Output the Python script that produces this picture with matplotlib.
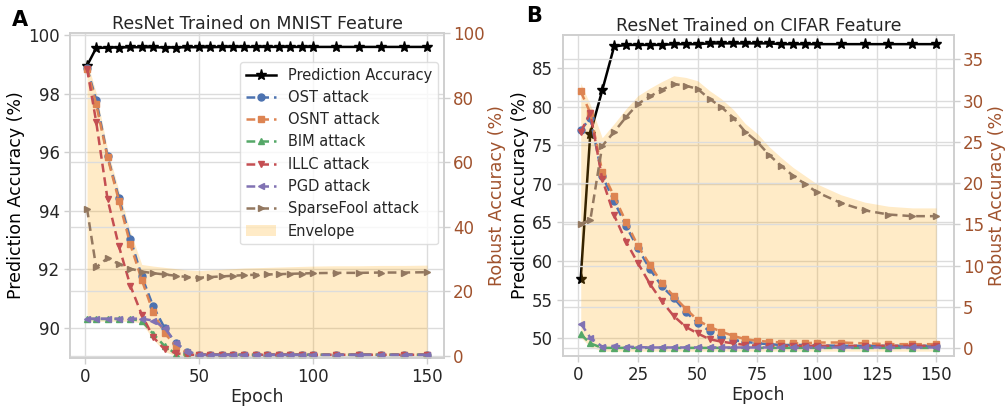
import numpy as np
import matplotlib
matplotlib.use("Agg")
import matplotlib.pyplot as plt

plt.rcParams['font.family'] = ['DejaVu Sans']

# ---------------- data ----------------
epochs = [1, 5, 10, 15, 20, 25, 30, 35, 40, 45, 50, 55, 60, 65, 70, 75, 80, 85, 90, 95, 100,
          110, 120, 130, 140, 150]

# Panel A: MNIST
mnist_pred = [98.95, 99.55, 99.57, 99.57, 99.58, 99.58, 99.58, 99.57, 99.57, 99.58, 99.58, 99.58,
              99.59, 99.59, 99.59, 99.59, 99.59, 99.59, 99.59, 99.59, 99.59, 99.59, 99.59, 99.59,
              99.59, 99.59]
mnist_ost = [89.2, 79.3, 61.8, 48.9, 36.2, 24.6, 15.3, 8.6, 3.9, 1.3, 0.3, 0.3, 0.3, 0.3, 0.3, 0.3,
             0.3, 0.3, 0.3, 0.3, 0.3, 0.3, 0.3, 0.3, 0.3, 0.3]
mnist_osnt = [89.0, 78.0, 61.5, 48.0, 34.5, 23.5, 13.5, 7.0, 3.0, 1.0, 0.3, 0.3, 0.3, 0.3, 0.3, 0.3,
              0.3, 0.3, 0.3, 0.3, 0.3, 0.3, 0.3, 0.3, 0.3, 0.3]
mnist_bim = [11.4, 11.4, 11.4, 11.4, 11.4, 10.8, 6.8, 3.0, 0.6, 0.3, 0.3, 0.3, 0.3, 0.3, 0.3, 0.3,
             0.3, 0.3, 0.3, 0.3, 0.3, 0.3, 0.3, 0.3, 0.3, 0.3]
mnist_illc = [89.0, 72.6, 48.5, 33.9, 21.7, 12.7, 5.8, 2.0, 0.8, 0.3, 0.3, 0.3, 0.3, 0.3, 0.3, 0.3,
              0.3, 0.3, 0.3, 0.3, 0.3, 0.3, 0.3, 0.3, 0.3, 0.3]
mnist_pgd = [11.5, 11.5, 11.5, 11.5, 11.5, 11.5, 10.9, 8.6, 3.9, 1.3, 0.3, 0.3, 0.3, 0.3, 0.3, 0.3,
             0.3, 0.3, 0.3, 0.3, 0.3, 0.3, 0.3, 0.3, 0.3, 0.3]
mnist_sf = [45.6, 27.4, 30.3, 28.4, 27.0, 26.1, 25.6, 25.2, 24.8, 24.4, 24.2, 24.4, 24.6, 24.8,
            25.0, 25.1, 25.2, 25.3, 25.4, 25.5, 25.6, 25.7, 25.7, 25.8, 25.8, 25.9]

# Panel B: CIFAR
cifar_pred = [57.7, 76.5, 82.1, 87.8, 88.0, 88.0, 88.0, 88.0, 88.1, 88.1, 88.1, 88.2, 88.2, 88.2,
              88.2, 88.2, 88.2, 88.1, 88.1, 88.1, 88.1, 88.1, 88.1, 88.1, 88.1, 88.1]
cifar_ost = [26.4, 27.9, 20.9, 17.8, 14.8, 12.1, 9.6, 7.5, 6.1, 4.4, 3.1, 2.1, 1.4, 1.0, 0.8, 0.6,
             0.5, 0.4, 0.4, 0.4, 0.35, 0.3, 0.3, 0.3, 0.3, 0.3]
cifar_osnt = [31.1, 28.5, 21.4, 18.4, 15.3, 12.4, 10.1, 7.9, 6.3, 4.8, 3.4, 2.6, 2.0, 1.5, 1.1, 0.9,
              0.8, 0.7, 0.6, 0.6, 0.7, 0.7, 0.6, 0.5, 0.5, 0.5]
cifar_bim = [1.7, 0.6, 0.05, 0.05, 0.05, 0.05, 0.05, 0.05, 0.05, 0.05, 0.05, 0.05, 0.05, 0.05,
             0.05, 0.05, 0.05, 0.05, 0.05, 0.05, 0.05, 0.05, 0.05, 0.05, 0.05, 0.05]
cifar_illc = [26.2, 28.5, 20.5, 16.1, 12.9, 10.3, 7.8, 5.7, 3.9, 2.6, 1.8, 1.1, 0.8, 0.6, 0.4, 0.3,
              0.3, 0.3, 0.3, 0.3, 0.3, 0.3, 0.3, 0.3, 0.3, 0.3]
cifar_pgd = [3.0, 1.3, 0.2, 0.3, 0.2, 0.15, 0.1, 0.1, 0.1, 0.1, 0.1, 0.1, 0.1, 0.1, 0.1, 0.1,
             0.1, 0.1, 0.1, 0.1, 0.1, 0.1, 0.1, 0.1, 0.1, 0.1]
cifar_sf = [15.1, 15.5, 24.5, 26.2, 28.0, 29.6, 30.5, 31.3, 32.0, 31.8, 31.4, 30.2, 29.2, 27.9,
            26.2, 25.0, 23.4, 22.1, 20.9, 19.9, 18.9, 17.6, 16.7, 16.2, 16.0, 16.0]

attack_names = ["OST attack", "OSNT attack", "BIM attack", "ILLC attack", "PGD attack",
                "SparseFool attack"]
attack_markers = ["o", "s", "^", "v", "<", ">"]
attack_colors = ["#4C72B0", "#DD8452", "#55A868", "#C44E52", "#8172B3", "#937860"]

titles = ["ResNet Trained on MNIST Feature", "ResNet Trained on CIFAR Feature"]
panel_letters = ["A", "B"]

# ---------------- style ----------------
GRID = "#dcdcdc"
SPINE = "#cfcfcf"
TXT = "#262626"
RCOL = "#a0522d"

fig = plt.figure(figsize=(10.06, 4.08), dpi=100)
axA = fig.add_axes([0.0696, 0.1225, 0.3718, 0.797])
axB = fig.add_axes([0.5596, 0.1275, 0.3887, 0.787])

panels = [
    dict(ax=axA, pred=mnist_pred,
         attacks=[mnist_ost, mnist_osnt, mnist_bim, mnist_illc, mnist_pgd, mnist_sf],
         ylim=(88.98, 100.07), yticks=np.arange(90, 101, 2),
         rylim=(-0.7, 100.1), ryticks=np.arange(0, 101, 20),
         xticks=[0, 50, 100, 150], pad_up=2.2, pad_lo=0.7, legend=True),
    dict(ax=axB, pred=cifar_pred,
         attacks=[cifar_ost, cifar_osnt, cifar_bim, cifar_illc, cifar_pgd, cifar_sf],
         ylim=(47.7, 89.3), yticks=np.arange(50, 86, 5),
         rylim=(-0.93, 37.95), ryticks=np.arange(0, 36, 5),
         xticks=[0, 25, 50, 75, 100, 125, 150], pad_up=1.0, pad_lo=0.4, legend=False),
]

for i, p in enumerate(panels):
    ax = p["ax"]
    ax2 = ax.twinx()
    for a in (ax, ax2):
        a.set_facecolor("none")
        for s in a.spines.values():
            s.set_color(SPINE)
            s.set_linewidth(1.2)
        a.grid(True, color=GRID, linewidth=1.0)
        a.set_axisbelow(True)
    ax.set_facecolor("white")
    ax.set_zorder(0)
    ax2.set_zorder(1)

    lp, = ax.plot(epochs, p["pred"], color="black", marker="*", markersize=8,
                  linewidth=1.8, label="Prediction Accuracy")

    handles = [lp]
    for vals, name, mk, col in zip(p["attacks"], attack_names, attack_markers, attack_colors):
        h, = ax2.plot(epochs, vals, linestyle="--", marker=mk, color=col, markersize=5,
                      linewidth=1.8, dashes=(3.5, 2.0), label=name)
        handles.append(h)
    arr = np.array(p["attacks"])
    lo = arr.min(axis=0) - p["pad_lo"]
    hi = arr.max(axis=0) + p["pad_up"]
    env = ax2.fill_between(epochs, lo, hi, color="orange", alpha=0.22, linewidth=0,
                           label="Envelope", zorder=0.5)
    handles.append(env)

    ax.set_ylim(*p["ylim"])
    ax.set_yticks(p["yticks"])
    ax2.set_ylim(*p["rylim"])
    ax2.set_yticks(p["ryticks"])
    ax.set_xticks(p["xticks"])
    ax.set_xlim(-6.45, 157.45)

    ax.tick_params(axis="both", labelsize=12, colors=TXT, length=4, width=1, color=SPINE)
    ax2.tick_params(axis="y", labelsize=12, labelcolor=RCOL, length=4, width=1, color=SPINE,
                    pad=2.5)
    ax.set_xlabel("Epoch", fontsize=12.5, color=TXT, labelpad=1)
    ax.set_ylabel("Prediction Accuracy (%)", fontsize=12.5, color="black", labelpad=2)
    ax2.set_ylabel("Robust Accuracy (%)", fontsize=12.5, color=RCOL, labelpad=2.5)
    ax.set_title(titles[i], fontsize=12.5, color=TXT, pad=3)

    if p["legend"]:
        leg = ax2.legend(handles=handles, loc="upper right", bbox_to_anchor=(0.984, 0.911),
                         borderaxespad=0, fontsize=10.5, frameon=True, fancybox=True,
                         labelspacing=0.5, handlelength=2.1)
        leg.get_frame().set_edgecolor("#d8d8d8")
        leg.get_frame().set_linewidth(1.0)
        for t in leg.get_texts():
            t.set_color(TXT)

fig.text(0.012, 0.975, "A", fontsize=15, fontweight="bold", va="top", ha="left")
fig.text(0.523, 0.985, "B", fontsize=15, fontweight="bold", va="top", ha="left")

fig.savefig("out.png", dpi=100)
